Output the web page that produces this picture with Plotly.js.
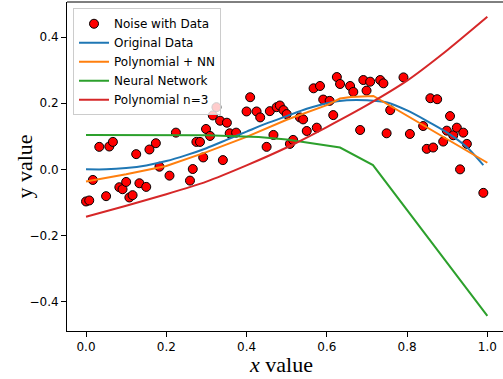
<!DOCTYPE html>
<html>
<head>
<meta charset="utf-8">
<script src="https://cdn.plot.ly/plotly-3.0.1.min.js"></script>
<style>html,body{margin:0;padding:0;background:#fff;}#chart{width:503px;height:379px;}</style>
</head>
<body>
<div id="chart"></div>
<script>
// Noisy samples
const noiseX = [0.000,0.008,0.017,0.033,0.050,0.058,0.067,0.083,0.091,0.100,0.108,0.116,0.125,0.133,0.150,0.158,0.174,0.183,0.208,0.224,0.259,0.266,0.275,0.284,0.292,0.299,0.309,0.316,0.325,0.334,0.351,0.341,0.358,0.374,0.400,0.409,0.425,0.434,0.450,0.458,0.467,0.475,0.483,0.492,0.500,0.508,0.516,0.533,0.541,0.550,0.575,0.567,0.583,0.591,0.607,0.616,0.625,0.633,0.658,0.666,0.683,0.691,0.699,0.708,0.733,0.741,0.749,0.758,0.791,0.807,0.840,0.849,0.858,0.865,0.875,0.890,0.899,0.907,0.915,0.924,0.932,0.940,0.949,0.990];
const noiseY = [-0.097,-0.094,-0.032,0.068,-0.081,0.069,0.083,-0.054,-0.060,-0.038,-0.085,-0.078,0.046,-0.042,-0.053,0.060,0.079,0.008,-0.019,0.111,-0.034,0.001,0.083,0.083,0.036,0.122,0.101,0.163,0.188,0.147,0.141,0.028,0.109,0.111,0.175,0.218,0.175,0.157,0.068,0.176,0.104,0.188,0.193,0.179,0.167,0.077,0.089,0.157,0.151,0.116,0.126,0.245,0.252,0.211,0.207,0.164,0.279,0.258,0.252,0.234,0.119,0.270,0.238,0.265,0.270,0.260,0.109,0.179,0.278,0.107,0.131,0.062,0.215,0.066,0.212,0.084,0.117,0.161,0.103,0.126,0.000,0.111,0.077,-0.071];

// Original data curve
const origX = [0.00,0.05,0.10,0.15,0.20,0.25,0.30,0.35,0.40,0.45,0.50,0.55,0.60,0.65,0.70,0.75,0.80,0.85,0.90,0.95,0.99];
const origY = [0.000,0.000,0.004,0.012,0.025,0.043,0.064,0.089,0.114,0.139,0.161,0.183,0.200,0.209,0.209,0.202,0.178,0.146,0.111,0.066,0.013];

// Polynomial + NN
const polyNNX = [0.00,0.10,0.20,0.30,0.40,0.50,0.60,0.633,0.66,0.716,1.00];
const polyNNY = [-0.037,-0.015,0.010,0.052,0.098,0.150,0.194,0.214,0.219,0.222,0.020];

// Neural network
const nnX = [0.00,0.30,0.43,0.50,0.633,0.715,1.00];
const nnY = [0.104,0.103,0.098,0.090,0.066,0.013,-0.443];

// Polynomial n=3
const polyX = [0.0,0.1,0.2,0.3,0.4,0.5,0.6,0.7,0.8,0.9,1.0];
const polyY = [-0.143,-0.110,-0.075,-0.037,0.012,0.066,0.128,0.194,0.268,0.360,0.461];

const xTicks = [0.0,0.2,0.4,0.6,0.8,1.0];
const yTicks = [-0.4,-0.2,0.0,0.2,0.4];

const traces = [
  {x: noiseX, y: noiseY, mode: 'markers', type: 'scatter', name: 'Noise with Data',
   marker: {color: '#ff0000', size: 9, line: {color: '#000', width: 1}}},
  {x: origX, y: origY, mode: 'lines', type: 'scatter', name: 'Original Data',
   line: {color: '#1f77b4', width: 2, shape: 'spline', smoothing: 0.6}},
  {x: polyNNX, y: polyNNY, mode: 'lines', type: 'scatter', name: 'Polynomial + NN',
   line: {color: '#ff7f0e', width: 2}},
  {x: nnX, y: nnY, mode: 'lines', type: 'scatter', name: 'Neural Network',
   line: {color: '#2ca02c', width: 2}},
  {x: polyX, y: polyY, mode: 'lines', type: 'scatter', name: 'Polynomial n=3',
   line: {color: '#d62728', width: 2, shape: 'spline', smoothing: 0.6}}
];

const tickFont = {family: 'DejaVu Sans', size: 12, color: '#000'};
const titleFont = {family: 'Liberation Serif', size: 22, color: '#000'};
const layout = {
  width: 503, height: 379,
  margin: {l: 67, r: 0, t: 2, b: 48, pad: 0},
  paper_bgcolor: '#fff', plot_bgcolor: '#fff',
  showlegend: true,
  legend: {x: 0.0138, y: 0.981, xanchor: 'left', yanchor: 'top',
           bgcolor: 'rgba(255,255,255,0.8)', bordercolor: '#cccccc', borderwidth: 1,
           font: {family: 'DejaVu Sans', size: 12, color: '#000'},
           itemwidth: 30, tracegroupgap: 0},
  xaxis: {range: [-0.0474, 1.039], tickvals: xTicks, tickformat: '.1f',
          showgrid: false, zeroline: false, showline: true, linecolor: '#000', linewidth: 1,
          ticks: 'outside', ticklen: 5, tickwidth: 1, tickcolor: '#000', tickfont: tickFont},
  yaxis: {range: [-0.4885, 0.5058], tickvals: yTicks, tickformat: '.1f',
          showgrid: false, zeroline: false, showline: true, linecolor: '#000', linewidth: 1,
          ticks: 'outside', ticklen: 5, tickwidth: 1, tickcolor: '#000', tickfont: tickFont},
  annotations: [
    {text: '<i>x</i> value', xref: 'paper', yref: 'paper', x: 0.491, y: -0.101,
     xanchor: 'center', yanchor: 'middle', showarrow: false, font: titleFont},
    {text: 'y value', xref: 'paper', yref: 'paper', x: -0.0986, y: 0.5,
     xanchor: 'center', yanchor: 'middle', textangle: -90, showarrow: false, font: titleFont}
  ],
  shapes: [{type: 'line', xref: 'paper', yref: 'paper', x0: 0, x1: 1, y0: 1, y1: 1,
            line: {color: '#000', width: 1}}]
};

Plotly.newPlot('chart', traces, layout, {displayModeBar: false, staticPlot: true});
</script>
</body>
</html>
